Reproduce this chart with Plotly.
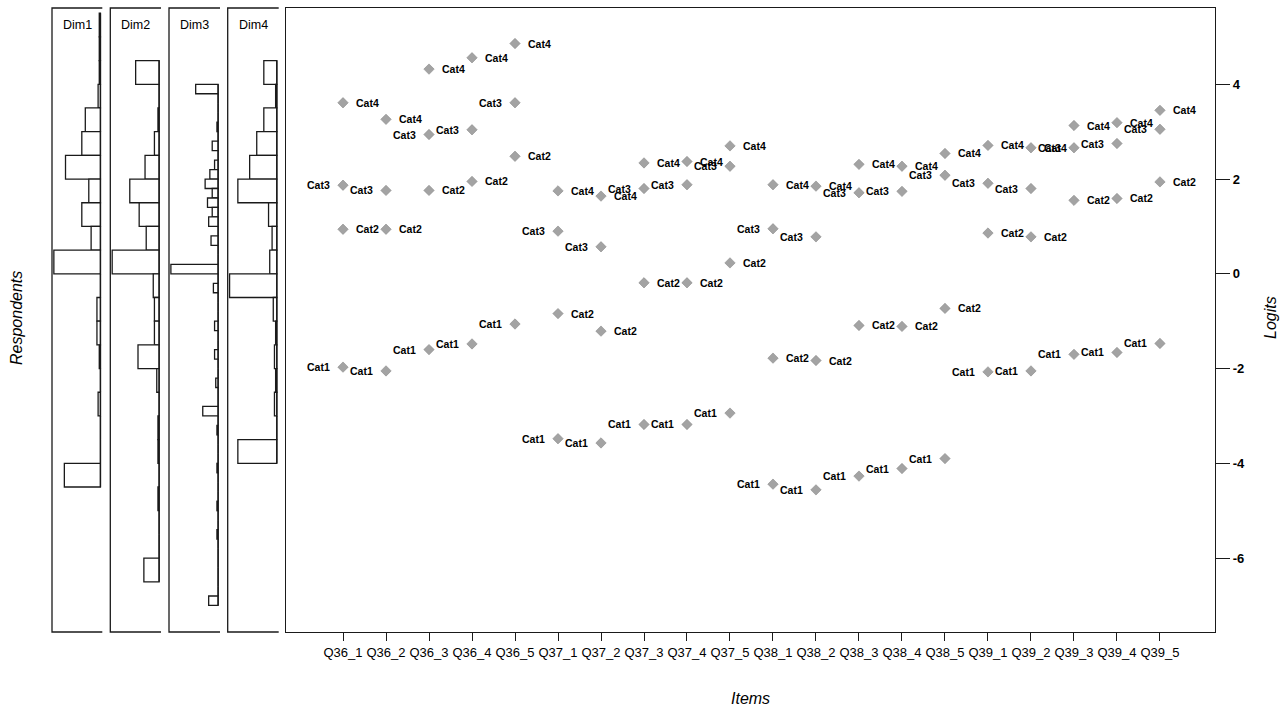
import plotly.graph_objects as go

# ---- item thresholds (logits) ----
items = ["Q36_1", "Q36_2", "Q36_3", "Q36_4", "Q36_5",
         "Q37_1", "Q37_2", "Q37_3", "Q37_4", "Q37_5",
         "Q38_1", "Q38_2", "Q38_3", "Q38_4", "Q38_5",
         "Q39_1", "Q39_2", "Q39_3", "Q39_4", "Q39_5"]
cat_names = ["Cat1", "Cat2", "Cat3", "Cat4"]
cat1 = [-1.97, -2.05, -1.60, -1.48, -1.06, -3.48, -3.57, -3.18, -3.18, -2.94,
        -4.44, -4.56, -4.27, -4.11, -3.90, -2.07, -2.05, -1.70, -1.66, -1.47]
cat2 = [0.94, 0.94, 1.76, 1.95, 2.48, -0.84, -1.21, -0.19, -0.19, 0.23,
        -1.78, -1.83, -1.09, -1.11, -0.73, 0.86, 0.78, 1.55, 1.59, 1.94]
cat3 = [1.87, 1.76, 2.94, 3.04, 3.61, 0.90, 0.57, 1.80, 1.88, 2.27,
        0.95, 0.78, 1.71, 1.74, 2.08, 1.91, 1.80, 2.66, 2.75, 3.05]
cat4 = [3.61, 3.26, 4.32, 4.56, 4.86, 1.75, 1.64, 2.34, 2.37, 2.70,
        1.88, 1.85, 2.31, 2.27, 2.54, 2.71, 2.66, 3.13, 3.19, 3.45]

# ---- respondent distributions: bins listed from the top edge downwards ----
dim_names = ["Dim1", "Dim2", "Dim3", "Dim4"]
dim1_top, dim1_width = 5.5, 0.5
dim1_counts = [1, 1, 1, 2, 13, 16, 30, 10, 16, 8, 40, 0, 3, 3, 1, 0, 2, 0, 0, 31]
dim2_top, dim2_width = 4.5, 0.5
dim2_counts = [20, 0, 1, 4, 12, 25, 17, 11, 40, 5, 4, 4, 18, 2, 0, 1, 1, 0, 1, 0, 0, 13]
dim3_top, dim3_width = 4.0, 0.2
dim3_counts = [19, 0, 0, 0, 1, 0, 5, 0, 3, 7, 11, 5, 9, 5, 8, 0, 6, 0, 0, 40,
               0, 4, 0, 0, 0, 3, 0, 0, 3, 0, 0, 2, 0, 0, 13, 0, 1, 0, 0, 0,
               1, 0, 0, 0, 1, 0, 0, 1, 0, 0, 0, 0, 0, 0, 8]
dim4_top, dim4_width = 4.5, 0.5
dim4_counts = [11, 1, 11, 17, 23, 33, 7, 4, 6, 40, 3, 1, 2, 1, 2, 0, 33]

y_ticks = [-6, -4, -2, 0, 2, 4]
y_range = [-7.56, 5.61]

W, H = 1282, 711
INK = "#1a1a1a"
LW = 1.3


def fx(p):
    return p / W


def fy(p):
    return 1 - p / H


FONT = "Liberation Sans, Arial, sans-serif"
fig = go.Figure()

# ---- histogram panels ----
hist_specs = [
    (dim1_top, dim1_width, dim1_counts, 52.0, 102.3),
    (dim2_top, dim2_width, dim2_counts, 110.3, 161.0),
    (dim3_top, dim3_width, dim3_counts, 169.0, 220.0),
    (dim4_top, dim4_width, dim4_counts, 227.7, 278.7),
]
shapes = []
annotations = []
for i, (top, bw, counts, left, right) in enumerate(hist_specs):
    ax = "x" if i == 0 else "x%d" % (i + 1)
    centers = [top - bw * (k + 0.5) for k in range(len(counts))]
    fig.add_trace(go.Bar(
        orientation="h", y=centers, x=counts, width=bw,
        marker=dict(color="white", line=dict(color=INK, width=LW)),
        xaxis=ax, yaxis="y", showlegend=False, hoverinfo="skip"))
    bottom = top - bw * len(counts)
    fig.add_trace(go.Scatter(
        x=[0, 0], y=[bottom, top], mode="lines",
        line=dict(color=INK, width=LW),
        xaxis=ax, yaxis="y", showlegend=False, hoverinfo="skip"))
    m = max(counts)
    key = "xaxis" if i == 0 else "xaxis%d" % (i + 1)
    fig.layout[key] = dict(domain=[fx(left), fx(right)], range=[m * 1.04, -m * 0.04],
                           anchor="y", visible=False, fixedrange=True)
    # left / top / bottom frame of the panel
    shapes.append(dict(type="path", xref="paper", yref="paper",
                       path="M %f,%f L %f,%f L %f,%f L %f,%f" % (
                           fx(right), fy(8), fx(left), fy(8),
                           fx(left), fy(632), fx(right), fy(632)),
                       line=dict(color=INK, width=LW)))
    annotations.append(dict(xref="paper", yref="paper", x=fx(left + 9), y=fy(25),
                            xanchor="left", yanchor="middle", showarrow=False,
                            text=dim_names[i], font=dict(family=FONT, size=12.5, color="black")))

# ---- item threshold map ----
xpos = list(range(1, len(items) + 1))
for name, vals in zip(cat_names, [cat1, cat2, cat3, cat4]):
    fig.add_trace(go.Scatter(
        x=xpos, y=vals, mode="markers", xaxis="x5", yaxis="y",
        marker=dict(symbol="diamond", size=8, color="#A3A3A3",
                    line=dict(color="#8a8a8a", width=0.6)),
        showlegend=False, name=name))
    left_side = name in ("Cat1", "Cat3")
    for xv, yv in zip(xpos, vals):
        annotations.append(dict(
            xref="x5", yref="y", x=xv, y=yv, text="<b>%s</b>" % name,
            showarrow=False, xanchor="right" if left_side else "left",
            xshift=-11 if left_side else 11, yanchor="middle",
            font=dict(family=FONT, size=10.5, color="black")))

fig.layout["xaxis5"] = dict(
    domain=[fx(286), fx(1215)], range=[-0.326, 21.28], anchor="y",
    tickmode="array", tickvals=xpos, ticktext=items, ticks="outside", ticklen=8,
    tickcolor=INK, tickwidth=LW, showline=True, linecolor=INK, linewidth=LW,
    mirror=True, showgrid=False, zeroline=False,
    tickfont=dict(family=FONT, size=13, color="black"))
fig.layout["yaxis"] = dict(
    domain=[fy(632), fy(8)], range=y_range, anchor="x5", side="right",
    tickmode="array", tickvals=y_ticks, ticktext=["<b>%d</b>" % v for v in y_ticks],
    ticks="outside", ticklen=14, tickcolor=INK, tickwidth=LW, showline=True,
    linecolor=INK, linewidth=LW, mirror=True, showgrid=False, zeroline=False,
    tickfont=dict(family=FONT, size=13, color="black"))

# axis titles
annotations.append(dict(xref="paper", yref="paper", x=fx(750), y=fy(698),
                        text="<i>Items</i>", showarrow=False, xanchor="center",
                        yanchor="middle", font=dict(family=FONT, size=16, color="black")))
annotations.append(dict(xref="paper", yref="paper", x=fx(1270), y=fy(318),
                        text="<i>Logits</i>", showarrow=False, textangle=-90,
                        xanchor="center", yanchor="middle",
                        font=dict(family=FONT, size=16, color="black")))
annotations.append(dict(xref="paper", yref="paper", x=fx(16), y=fy(318),
                        text="<i>Respondents</i>", showarrow=False, textangle=-90,
                        xanchor="center", yanchor="middle",
                        font=dict(family=FONT, size=16, color="black")))

fig.update_layout(width=W, height=H, margin=dict(l=0, r=0, t=0, b=0),
                  paper_bgcolor="white", plot_bgcolor="white",
                  shapes=shapes, annotations=annotations, barmode="overlay")

fig.write_html("out.html")
